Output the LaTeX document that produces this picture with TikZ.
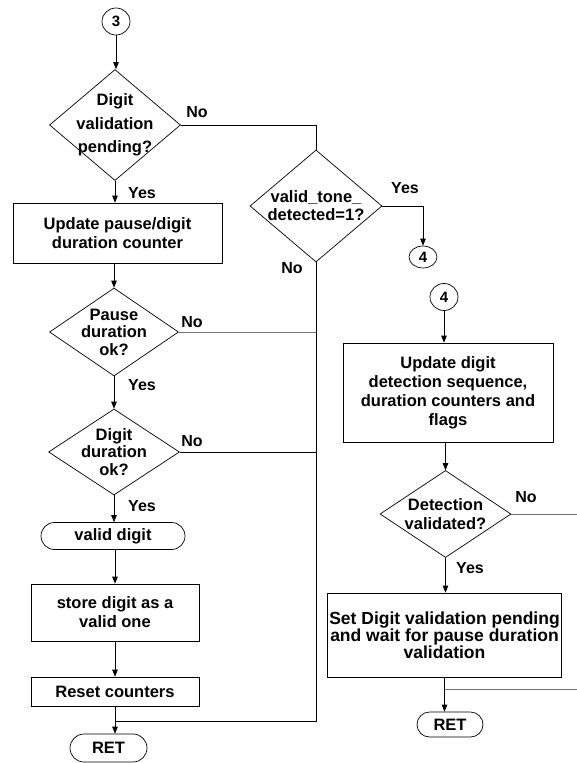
\documentclass[tikz,border=0pt]{standalone}
\usepackage{fontspec}
\setmainfont{Liberation Sans}
\usetikzlibrary{arrows.meta,shapes.geometric,shapes.misc}
\newcommand\myfs[2]{\fontsize{#1}{#2}\selectfont}
\begin{document}
\begin{tikzpicture}[x=1pt,y=-1pt,
  ln/.style={line width=0.7pt, draw=black},
  faint/.style={line width=0.6pt, draw=black!55},
  arr/.style={ln, -{Triangle[length=7pt,width=5.5pt]}},
  box/.style={draw, line width=0.7pt, rectangle, inner sep=0pt, align=center, font=\bfseries\myfs{16.5}{19}},
  dia/.style={draw, line width=0.7pt, diamond, inner sep=0pt},
  dtext/.style={inner sep=0pt, align=center},
  term/.style={draw, line width=0.7pt, rounded rectangle, inner sep=0pt, align=center, font=\bfseries\myfs{16.5}{19}},
  conn/.style={draw, line width=0.7pt, ellipse, inner sep=0pt, font=\bfseries\myfs{15}{15}},
  lab/.style={font=\bfseries\myfs{16}{16}, inner sep=0pt},
]
\useasboundingbox (0,0) rectangle (577,763);

% left column
\node[conn, minimum width=28pt, minimum height=27pt] (c3) at (116,21.5) {3};
\node[dia, minimum width=131pt, minimum height=111pt,
  label={[dtext,font=\bfseries\myfs{16.5}{23.5}]center:{Digit\\validation\\pending?}}] (d1) at (115,125) {};
\node[box, minimum width=209pt, minimum height=60pt] (b1) at (117.5,233) {Update pause/digit\\duration counter};
\node[dia, minimum width=129pt, minimum height=88pt,
  label={[dtext,font=\bfseries\myfs{16.5}{17.5}]center:{Pause\\duration\\ok?}}] (d3) at (114,332) {};
\node[dia, minimum width=131pt, minimum height=86pt,
  label={[dtext,font=\bfseries\myfs{16.5}{17.5}]center:{Digit\\duration\\ok?}}] (d4) at (114,452) {};
\node[term, minimum width=144pt, minimum height=27pt] (t1) at (113,536) {valid digit};
\node[box, minimum width=168pt, minimum height=57pt] (b2) at (115,612.5) {store digit as a\\valid one};
\node[box, minimum width=168pt, minimum height=29pt] (b3) at (115,691.5) {Reset counters};
\node[term, minimum width=77pt, minimum height=28pt] (r1) at (108.5,748) {RET};

% middle
\node[dia, minimum width=132pt, minimum height=112pt,
  label={[dtext,font=\bfseries\myfs{16.5}{18}]center:{valid\_tone\_\\detected=1?}}] (d2) at (316,206) {};
\node[conn, minimum width=28pt, minimum height=22pt] (c4a) at (423,257) {4};

% right column
\node[conn, minimum width=28pt, minimum height=27pt] (c4b) at (444,297) {4};
\node[box, minimum width=210pt, minimum height=99pt] (b4) at (448,392.5) {Update digit\\detection sequence,\\duration counters and\\flags};
\node[dia, minimum width=131pt, minimum height=87pt,
  label={[dtext,font=\bfseries\myfs{16.5}{19}]center:{Detection\\validated?}}] (d5) at (445.5,514) {};
\node[box, minimum width=234pt, minimum height=84pt, font=\bfseries\myfs{17.5}{17}] (b5) at (444.5,635) {Set Digit validation pending\\and wait for pause duration\\validation};
\node[term, minimum width=66pt, minimum height=25pt] (r2) at (450,724.5) {RET};

% branch labels
\node[lab] (n1) at (197,112) {No};
\node[lab] (y1) at (142,193) {Yes};
\node[lab] (y2) at (405,188) {Yes};
\node[lab] (n2) at (292,268) {No};
\node[lab] (n3) at (192,322) {No};
\node[lab] (y3) at (142,385) {Yes};
\node[lab] (n4) at (192,441) {No};
\node[lab] (y4) at (142,506) {Yes};
\node[lab] (n5) at (526,497) {No};
\node[lab] (y5) at (470,568) {Yes};

% free ends
\coordinate (m1) at (115,721);
\coordinate (ex) at (577,514);
\coordinate (re) at (577,689);

% connectors left
\draw[arr] (c3) -- (c3 |- d1.north);
\draw[arr] (d1.south) -- (d1.south |- b1.north);
\draw[arr] (b1.south -| d3.north) -- (d3.north);
\draw[arr] (d3.south) -- (d4.north);
\draw[arr] (d4.south) -- (d4.south |- t1.north);
\draw[arr] (t1.south -| b2.north) -- (b2.north);
\draw[arr] (b2.south) -- (b3.north);
\draw[arr] (b3.south) -- (b3.south |- r1.north);

% No branches
\draw[ln] (d1.east) -| (d2.north);
\draw[arr] (d2.east) -| (c4a.north);
\draw[ln] (d2.south) |- (m1);
\draw[faint] (d3.east) -- (d3.east -| d2.south);
\draw[ln] (d4.east) -- (d4.east -| d2.south);

% right column connectors
\draw[arr] (c4b.south) -- (c4b.south |- b4.north);
\draw[arr] (b4.south -| d5.north) -- (d5.north);
\draw[arr] (d5.south) -- (d5.south |- b5.north);
\draw[arr] (b5.south) -- (b5.south |- r2.north);
\draw[faint] (d5.east) -- (ex);
\draw[faint] (re) -- (re -| b5.south);
\end{tikzpicture}
\end{document}
